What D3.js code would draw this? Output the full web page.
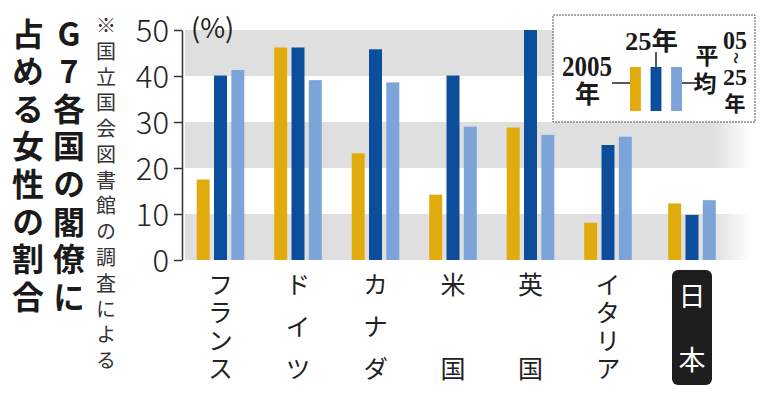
<!DOCTYPE html>
<html><head><meta charset="utf-8">
<script src="https://cdn.jsdelivr.net/npm/d3@7/dist/d3.min.js"></script>
<style>body{margin:0;background:#fff} .vt{writing-mode:vertical-rl;text-orientation:upright;}</style>
</head><body><svg id="c" width="769" height="400"></svg>
<script>
const countries = ["フランス","ドイツ","カナダ","米国","英国","イタリア","日本"];
const seriesNames = ["2005年","25年","05～25年平均"];
const v2005 = [17.5,46.2,23.2,14.2,28.8,8.1,12.3];
const v2025 = [40.1,46.2,45.8,40.1,50.0,25.0,9.8];
const vAvg  = [41.3,39.1,38.6,29.0,27.2,26.8,13.0];
const yTicks = [0,10,20,30,40,50];
const titleRight = "G7各国の閣僚に";
const titleLeft = "占める女性の割合";
const note = "※国立国会図書館の調査による";
const unitLabel = "(%)";

const colors = ["#e1ab0e","#0b4e9b","#7da4d8"];
const JP = "'Noto Sans CJK JP','Noto Sans',sans-serif";
const SERIF = "'Liberation Serif','DejaVu Serif','Noto Sans CJK JP',serif";
const svg = d3.select("#c");
const defs = svg.append("defs");

const y = d3.scaleLinear().domain([0,50]).range([260,30]);
const step = 77.5, x0 = 181.75, pIn = 0.386;
const x = d3.scaleBand().domain(countries).range([x0, x0 + step*countries.length]).paddingInner(pIn).paddingOuter(pIn/2);
const japanShift = 6.5;
const gx = c => x(c) + (c === "日本" ? japanShift : 0);
const xs = d3.scaleBand().domain(seriesNames).range([0, x.bandwidth()]).paddingInner(0.25);

// bands
const grad = defs.append("linearGradient").attr("id","bandFade").attr("x1","0").attr("x2","1");
grad.append("stop").attr("offset","0").attr("stop-color","#dfdfdf");
grad.append("stop").attr("offset","0.93").attr("stop-color","#dfdfdf");
grad.append("stop").attr("offset","1").attr("stop-color","#ffffff");
const bands = [[0,10],[20,30],[40,50]];
svg.append("g").selectAll("rect").data(bands).join("rect")
  .attr("x",185).attr("width",567)
  .attr("y",d=>y(d[1])).attr("height",d=>y(d[0])-y(d[1]))
  .attr("fill","url(#bandFade)");

// bars
const rows = countries.map((c,i)=>({c, vals:[v2005[i],v2025[i],vAvg[i]]}));
const gBars = svg.append("g");
rows.forEach(r=>{
  gBars.append("g").attr("transform",`translate(${gx(r.c)},0)`)
    .selectAll("rect").data(r.vals.map((v,k)=>({v,k}))).join("rect")
    .attr("x",d=>xs(seriesNames[d.k])).attr("width",xs.bandwidth())
    .attr("y",d=>y(d.v)).attr("height",d=>y(0)-y(d.v))
    .attr("fill",d=>colors[d.k]);
});

// axis
const ax = svg.append("g").attr("transform","translate(182,0)")
  .call(d3.axisLeft(y).tickValues(yTicks).tickSize(8).tickSizeOuter(0).tickPadding(5));
ax.select(".domain").attr("stroke","#333").attr("stroke-width",1.5);
ax.selectAll(".tick line").attr("stroke","#333").attr("stroke-width",1.5);
ax.selectAll(".tick text").attr("font-family",JP).attr("font-size",31).attr("font-weight",300)
  .attr("fill","#222").attr("dy","0.36em");

svg.append("text").attr("x",191).attr("y",38).attr("font-family",JP).attr("font-size",27)
  .attr("fill","#222").text(unitLabel);

// vertical text helper: one text element, evenly spread glyphs, no trailing space
function vtext(str, cx, firstCenter, lastCenter, size, weight, color){
  const chars = Array.from(str);
  const n = chars.length;
  const stepY = n > 1 ? (lastCenter - firstCenter)/(n-1) : 0;
  const t = svg.append("text").attr("class","vt")
    .attr("x",cx).attr("y",firstCenter - size/2)
    .attr("font-family",JP).attr("font-size",size).attr("font-weight",weight)
    .attr("fill",color).style("letter-spacing",(stepY - size)+"px");
  t.append("tspan").text(chars.slice(0,-1).join(""));
  t.append("tspan").style("letter-spacing","0px").text(chars[n-1]);
  return t;
}

// category labels
rows.forEach(r=>{
  const cx = gx(r.c) + x.bandwidth()/2;
  if(r.c === "日本"){
    svg.append("rect").attr("x",cx-20).attr("y",270).attr("width",40).attr("height",115)
      .attr("rx",6).attr("fill","#1e1e1e");
    vtext(r.c, cx, 296, 360, 27, 400, "#fff");
  } else {
    vtext(r.c, cx, 284, 368, 25, 400, "#222");
  }
});

// title and note
vtext(titleRight, 69, 33.5, 296.7, 32, 700, "#1a1a1a");
vtext(titleLeft, 28, 33.5, 296.7, 32, 700, "#1a1a1a");
vtext(note, 106, 25.5, 360.5, 20, 400, "#333");

// legend
const lg = svg.append("g");
lg.append("rect").attr("x",553).attr("y",15).attr("width",202).attr("height",107)
  .attr("fill","#fff").attr("stroke","#555").attr("stroke-width",1).attr("stroke-dasharray","2,1");
const lx = d3.scaleBand().domain(seriesNames).range([630,682]).paddingInner(0.47);
lg.selectAll("rect.sw").data(seriesNames).join("rect").attr("class","sw")
  .attr("x",d=>lx(d)).attr("width",lx.bandwidth()).attr("y",67).attr("height",44)
  .attr("fill",(d,i)=>colors[i]);
const ln = (x1,y1,x2,y2)=>lg.append("line").attr("x1",x1).attr("y1",y1).attr("x2",x2).attr("y2",y2)
  .attr("stroke","#222").attr("stroke-width",1.5);
ln(612,83,630,83); ln(656,52,656,67); ln(682,83,700,83);
const lt = (s,xx,yy,size,opts={})=>{
  const t = lg.append("text").attr("x",xx).attr("y",yy).attr("font-family",SERIF).attr("font-size",size)
    .attr("font-weight",700).attr("fill","#1a1a1a").attr("text-anchor","middle").text(s);
  if(opts.len) t.attr("textLength",opts.len).attr("lengthAdjust","spacingAndGlyphs");
  if(opts.central) t.attr("dominant-baseline","central");
  return t;
};
lt("2005",587,76,29,{len:50});
lt("年",587.5,94,25,{central:true});
lt("25年",651.5,50,25,{len:53});
lt("平",707,56,23,{central:true});
lt("均",705,84,23,{central:true});
lt("05",735,49,25,{len:24});
lt("～",735,58,12,{central:true}).attr("transform","rotate(90,735,58)");
lt("25",735,85,24,{len:24});
lt("年",735,104,21,{central:true});
</script></body></html>
